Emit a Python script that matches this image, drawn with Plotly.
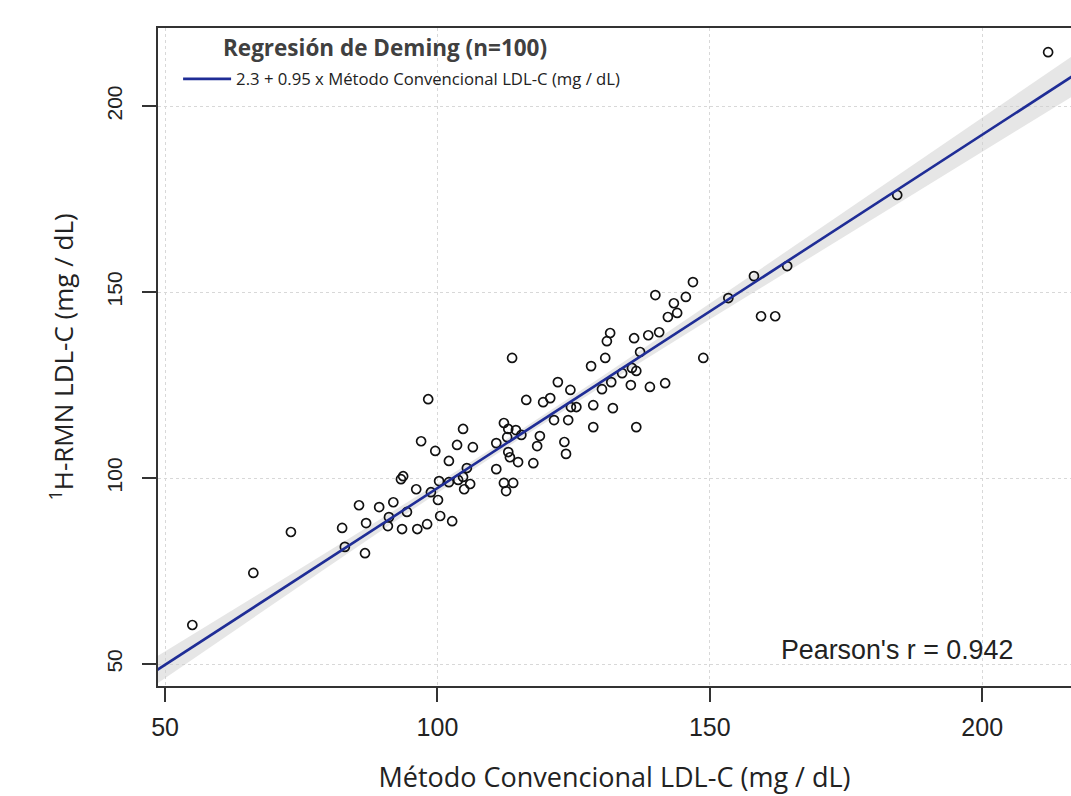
import plotly.graph_objects as go

# Data
conv_ldl = [
    55.0, 66.2, 73.1, 82.5, 83.0, 85.6, 86.7, 86.9, 89.3, 90.9,
    91.1, 91.9, 93.3, 93.7, 93.5, 94.4, 96.1, 96.3, 97.0, 98.1,
    98.3, 98.8, 99.6, 100.1, 100.3, 100.5, 102.1, 102.1, 102.7, 103.6,
    103.8, 104.7, 104.7, 104.9, 105.4, 106.0, 106.5, 110.8, 110.8, 112.2,
    112.2, 113.0, 112.6, 113.0, 113.3, 113.9, 114.4, 115.4, 113.7, 114.8,
    116.3, 117.6, 118.3, 118.8, 119.4, 120.7, 121.4, 122.1, 123.3, 123.6,
    124.0, 124.4, 124.5, 125.5, 128.2, 128.6, 128.6, 130.2, 130.8, 131.1,
    131.7, 131.9, 132.2, 133.9, 135.7, 136.5, 135.5, 136.1, 136.5, 137.2,
    138.7, 139.0, 140.0, 140.7, 141.8, 142.3, 143.4, 144.0, 145.6, 146.9,
    148.8, 153.4, 158.1, 159.4, 162.0, 164.2, 184.4, 212.1, 112.8,
]
rmn_ldl = [
    60.5, 74.5, 85.5, 86.6, 81.5, 92.7, 79.8, 87.9, 92.2, 87.1,
    89.5, 93.5, 99.7, 100.5, 86.3, 90.9, 97.0, 86.3, 109.9, 87.6,
    121.2, 96.2, 107.3, 94.1, 99.2, 89.8, 104.6, 98.9, 88.4, 108.9,
    99.5, 113.2, 100.3, 97.0, 102.7, 98.4, 108.3, 109.4, 102.4, 98.7,
    114.8, 113.2, 96.5, 107.0, 105.6, 98.7, 112.9, 111.6, 132.3, 104.3,
    121.0, 104.0, 108.6, 111.3, 120.4, 121.5, 115.6, 125.8, 109.7, 106.5,
    115.6, 123.7, 119.1, 119.1, 130.1, 119.6, 113.7, 123.9, 132.3, 136.8,
    139.0, 125.8, 118.8, 128.2, 129.6, 128.8, 125.0, 137.6, 113.7, 133.9,
    138.4, 124.5, 149.2, 139.2, 125.5, 143.3, 147.0, 144.4, 148.7, 152.7,
    132.3, 148.4, 154.3, 143.5, 143.5, 157.0, 176.1, 214.5, 111.0,
]

intercept = 2.3
slope = 0.95
pearson_r = 0.942
n_obs = 100

# Confidence band half-widths
band_x = [48, 60, 75, 90, 100, 115, 130, 150, 175, 200, 218]
band_hw = [3.7, 3.0, 2.3, 1.6, 1.3, 1.1, 1.3, 2.1, 3.3, 4.6, 5.5]

x_ticks = [50, 100, 150, 200]
y_ticks = [50, 100, 150, 200]

line_y = [intercept + slope * v for v in band_x]
band_upper = [ly + h for ly, h in zip(line_y, band_hw)]
band_lower = [ly - h for ly, h in zip(line_y, band_hw)]

fig = go.Figure()

fig.add_trace(go.Scatter(
    x=band_x + band_x[::-1],
    y=band_upper + band_lower[::-1],
    fill="toself",
    fillcolor="rgba(205,205,205,0.5)",
    line=dict(width=0),
    hoverinfo="skip",
    showlegend=False,
))

fig.add_trace(go.Scatter(
    x=conv_ldl, y=rmn_ldl,
    mode="markers",
    marker=dict(symbol="circle-open", size=9, color="#111111",
                line=dict(width=1.7, color="#111111")),
    showlegend=False,
))

fig.add_trace(go.Scatter(
    x=band_x, y=line_y,
    mode="lines",
    line=dict(color="#1f2d96", width=2.6),
    name="2.3 + 0.95 x Método Convencional LDL-C (mg / dL)",
    showlegend=True,
))

axis_common = dict(
    showline=True, mirror=True, linecolor="#333333", linewidth=1.5,
    ticks="outside", ticklen=14, tickwidth=1.5, tickcolor="#333333",
    showgrid=True, gridcolor="#d8d8d8", griddash="dot", gridwidth=1,
    zeroline=False, automargin=False,
)

fig.update_layout(
    width=1071, height=796,
    margin=dict(l=158, r=0, t=28, b=110, pad=0),
    plot_bgcolor="white", paper_bgcolor="white",
    xaxis=dict(
        range=[48.7, 216.3], tickvals=x_ticks,
        tickfont=dict(family="Liberation Sans, Arial", size=25, color="#222222"),
        ticklabelstandoff=4,
        title=dict(text="Método Convencional LDL-C (mg / dL)",
                   font=dict(family="Open Sans", size=27, color="#222222"),
                   standoff=28),
        **axis_common,
    ),
    yaxis=dict(
        range=[44.1, 221.0], tickvals=y_ticks, tickangle=-90,
        tickfont=dict(family="Liberation Sans, Arial", size=21, color="#222222"),
        ticklabelstandoff=12,
        title=dict(text="<sup>1</sup>H-RMN LDL-C (mg / dL)",
                   font=dict(family="Open Sans", size=26, color="#222222"),
                   standoff=22),
        **axis_common,
    ),
    legend=dict(
        x=0.022, y=0.949, xanchor="left", yanchor="top",
        bgcolor="rgba(0,0,0,0)", borderwidth=0,
        font=dict(family="Open Sans", size=16.7, color="#222222"),
        itemwidth=48,
    ),
    annotations=[
        dict(text=f"Regresión de Deming (n={n_obs})", xref="paper", yref="paper",
             x=(221 - 158) / 913, y=1 - (48 - 28) / 658, xanchor="left", yanchor="middle",
             showarrow=False,
             font=dict(family="Open Sans", size=22.5, color="#404040", weight="bold")),
        dict(text=f"Pearson's r = {pearson_r}", xref="paper", yref="paper",
             x=(1015 - 158) / 913, y=1 - (650 - 28) / 658, xanchor="right", yanchor="middle",
             showarrow=False,
             font=dict(family="Liberation Sans, Arial", size=26.8, color="#222222")),
    ],
)

fig.write_html(
    "out.html",
    config={"displayModeBar": False},
    post_script="document.body.style.margin='0';document.body.style.overflow='hidden';",
)
